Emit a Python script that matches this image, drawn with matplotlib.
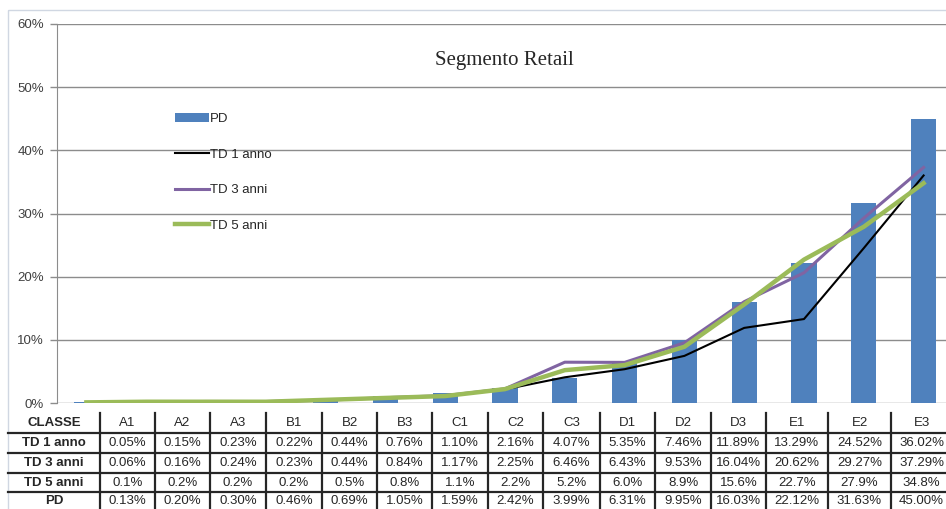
"""Segmento Retail: PD per classe di rating vs tassi di default osservati."""

import matplotlib

matplotlib.use("Agg")
import matplotlib.pyplot as plt
from matplotlib.lines import Line2D
from matplotlib.patches import Rectangle

CLASSI = ["A1", "A2", "A3", "B1", "B2", "B3", "C1", "C2", "C3",
          "D1", "D2", "D3", "E1", "E2", "E3"]
TD_1_ANNO = [0.05, 0.15, 0.23, 0.22, 0.44, 0.76, 1.10, 2.16, 4.07,
             5.35, 7.46, 11.89, 13.29, 24.52, 36.02]
TD_3_ANNI = [0.06, 0.16, 0.24, 0.23, 0.44, 0.84, 1.17, 2.25, 6.46,
             6.43, 9.53, 16.04, 20.62, 29.27, 37.29]
TD_5_ANNI = [0.1, 0.2, 0.2, 0.2, 0.5, 0.8, 1.1, 2.2, 5.2,
             6.0, 8.9, 15.6, 22.7, 27.9, 34.8]
PD = [0.13, 0.20, 0.30, 0.46, 0.69, 1.05, 1.59, 2.42, 3.99,
      6.31, 9.95, 16.03, 22.12, 31.63, 45.00]
Y_TICKS = [0, 10, 20, 30, 40, 50, 60]

W, H = 946, 509
BLUE = "#4F81BD"
PURPLE = "#8064A2"
GREEN = "#9BBB59"
TEXT = "#262626"

plt.rcParams["font.family"] = ["Liberation Sans", "DejaVu Sans"]

fig = plt.figure(figsize=(W / 100, H / 100), dpi=100)

# overlay in pixel coordinates for the frame and the data table
over = fig.add_axes([0, 0, 1, 1], zorder=0)
over.set_xlim(0, W)
over.set_ylim(H, 0)
over.axis("off")
over.add_patch(Rectangle((8, 10), W, H, fill=False, edgecolor="#D0D7E2", lw=1))

# plot area
x0, x1, y0, y60 = 56.5, 946, 403, 24
step = 59.8
ax = fig.add_axes([x0 / W, (H - y0) / H, (x1 - x0) / W, (y0 - y60) / H], zorder=1)
ax.patch.set_alpha(0)
xs = list(range(len(CLASSI)))
ax.set_xlim(-0.5, -0.5 + (x1 - x0) / step)
ax.set_ylim(0, 60)

bars = ax.bar(xs, PD, width=0.42, color=BLUE, label="PD", zorder=2)
l1, = ax.plot(xs, TD_1_ANNO, color="black", lw=1.5, label="TD 1 anno", zorder=3)
l3, = ax.plot(xs, TD_3_ANNI, color=PURPLE, lw=2.2, label="TD 3 anni", zorder=3)
l5, = ax.plot(xs, TD_5_ANNI, color=GREEN, lw=3.2, label="TD 5 anni", zorder=4)

ax.set_yticks(Y_TICKS)
ax.set_yticklabels([f"{v}%" for v in Y_TICKS], fontsize=9.5, color="#404040")
ax.yaxis.grid(True, color="#8C8C8C", lw=1)
ax.set_axisbelow(True)
ax.tick_params(axis="y", length=5, width=1, color="#8C8C8C", pad=4)
ax.set_xticks([])
for side in ["top", "right", "bottom"]:
    ax.spines[side].set_visible(False)
ax.spines["left"].set_color("#8C8C8C")

ax.text(0.503, 0.905, "Segmento Retail", transform=ax.transAxes, ha="center",
        va="center", fontsize=15, family=["Liberation Serif", "DejaVu Serif"],
        color=TEXT)

leg = ax.legend([bars, l1, l3, l5], ["PD", "TD 1 anno", "TD 3 anni", "TD 5 anni"],
                loc="upper left", bbox_to_anchor=(0.127, 0.78), frameon=False,
                fontsize=9.5, handlelength=2.6, handletextpad=0.1,
                labelspacing=1.78, borderaxespad=0)
for t in leg.get_texts():
    t.set_color(TEXT)

# data table below the plot
col_edges = [100, 155, 210, 266, 322, 377, 432, 488, 543, 600, 655, 711,
             766, 828, 891, 952]
row_lines = [433, 453, 473, 492]
row_mid = [423, 443, 463, 482.5, 501]
rows = [("TD 1 anno", TD_1_ANNO, "{:.2f}%"),
        ("TD 3 anni", TD_3_ANNI, "{:.2f}%"),
        ("TD 5 anni", TD_5_ANNI, "{:.1f}%"),
        ("PD", PD, "{:.2f}%")]

for y in row_lines:
    over.add_line(Line2D([8, W], [y, y], color="#262626", lw=1.6))
for x in col_edges[:-1]:
    over.add_line(Line2D([x, x], [413, H], color="#262626", lw=1.6))

over.text(54, row_mid[0], "CLASSE", ha="center", va="center", fontsize=9.5,
          fontweight="bold", color=TEXT)
for i, c in enumerate(CLASSI):
    cx = (col_edges[i] + col_edges[i + 1]) / 2
    over.text(cx, row_mid[0], c, ha="center", va="center", fontsize=9.5, color=TEXT)

for r, (name, vals, fmt) in enumerate(rows, start=1):
    over.text(54, row_mid[r], name, ha="center", va="center", fontsize=9.5,
              fontweight="bold", color=TEXT)
    for i, v in enumerate(vals):
        cx = (col_edges[i] + col_edges[i + 1]) / 2
        over.text(cx, row_mid[r], fmt.format(v), ha="center", va="center",
                  fontsize=9.5, color=TEXT)

fig.savefig("out.png", dpi=100)
